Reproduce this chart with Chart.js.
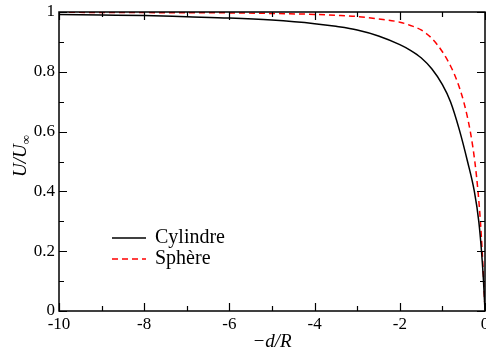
<!DOCTYPE html>
<html>
<head>
<meta charset="utf-8">
<script src="https://cdn.jsdelivr.net/npm/chart.js@4"></script>
<style>
  html, body { margin: 0; padding: 0; background: #fff; }
  canvas { display: block; }
</style>
</head>
<body>
<canvas id="chart" width="486" height="354"></canvas>
<script>
/* =========================
   DATA
========================= */
const cylX = [-10, -9, -8, -7, -6, -5, -4, -3.5, -3, -2.5, -2, -1.75, -1.5, -1.25, -1, -0.81, -0.6, -0.41, -0.25, -0.146, -0.082, -0.035, 0];
const cylU = [0.992, 0.990, 0.988, 0.984, 0.980, 0.973, 0.961, 0.952, 0.940, 0.920, 0.891, 0.872, 0.847, 0.810, 0.757, 0.70, 0.605, 0.50, 0.40, 0.30, 0.20, 0.10, 0];

const sphX = [-10, -8, -6, -5, -4, -3.5, -3, -2.5, -2, -1.75, -1.5, -1.25, -1, -0.8, -0.65, -0.5, -0.345, -0.239, -0.164, -0.108, -0.066, -0.031, -0.009];
const sphU = [0.999, 0.998, 0.997, 0.995, 0.992, 0.989, 0.985, 0.977, 0.966, 0.955, 0.940, 0.912, 0.867, 0.817, 0.767, 0.70, 0.60, 0.50, 0.40, 0.30, 0.20, 0.10, 0.03];

const seriesNames = ["Cylindre", "Sphère"];
const xTickLabels = { "-10": "-10", "-8": "-8", "-6": "-6", "-4": "-4", "-2": "-2", "0": "0" };
const yTickLabels = ["0", "0.2", "0.4", "0.6", "0.8", "1"];

const SERIF = "'Liberation Serif', 'Times New Roman', serif";

/* =========================
   PLUGINS
========================= */
// box frame + inward major/minor ticks on all four sides
const framePlugin = {
  id: "frame",
  afterDatasetsDraw(chart) {
    const { ctx, chartArea: a, scales } = chart;
    const xs = scales.x, ys = scales.y;
    ctx.save();
    ctx.strokeStyle = "#000";
    ctx.lineWidth = 1.2;
    ctx.beginPath();
    for (let v = -10; v <= 0; v += 1) {
      const px = Math.round(xs.getPixelForValue(v)) + 0.5;
      const len = v % 2 === 0 ? 8 : 5;
      ctx.moveTo(px, a.bottom); ctx.lineTo(px, a.bottom - len);
      ctx.moveTo(px, a.top); ctx.lineTo(px, a.top + len);
    }
    for (let i = 0; i <= 10; i++) {
      const py = Math.round(ys.getPixelForValue(i / 10)) + 0.5;
      const len = i % 2 === 0 ? 8 : 5;
      ctx.moveTo(a.left, py); ctx.lineTo(a.left + len, py);
      ctx.moveTo(a.right, py); ctx.lineTo(a.right - len, py);
    }
    ctx.stroke();
    ctx.lineWidth = 1.5;
    ctx.strokeRect(a.left, a.top, a.right - a.left, a.bottom - a.top);
    ctx.restore();
  }
};

// legend inside the plot
const legendPlugin = {
  id: "innerLegend",
  afterDraw(chart) {
    const { ctx } = chart;
    const x0 = 112, x1 = 146, tx = 155;
    const rows = [238, 259];
    ctx.save();
    chart.data.datasets.forEach((ds, i) => {
      const y = rows[i];
      ctx.strokeStyle = ds.borderColor;
      ctx.lineWidth = ds.borderWidth;
      ctx.setLineDash(ds.borderDash || []);
      ctx.beginPath();
      ctx.moveTo(x0, y); ctx.lineTo(x1, y);
      ctx.stroke();
      ctx.setLineDash([]);
      ctx.fillStyle = "#000";
      ctx.font = "20px " + SERIF;
      ctx.textBaseline = "middle";
      ctx.textAlign = "left";
      ctx.fillText(ds.label, tx, y);
    });
    ctx.restore();
  }
};

// y axis title U/U∞ with subscript
const yTitlePlugin = {
  id: "yTitle",
  afterDraw(chart) {
    const { ctx } = chart;
    ctx.save();
    ctx.translate(26, 156);
    ctx.rotate(-Math.PI / 2);
    ctx.fillStyle = "#000";
    ctx.textBaseline = "alphabetic";
    ctx.font = "italic 19px " + SERIF;
    const main = "U/U";
    const wMain = ctx.measureText(main).width;
    ctx.font = "13px " + SERIF;
    const wSub = ctx.measureText("∞").width;
    const start = -(wMain + wSub) / 2;
    ctx.font = "italic 19px " + SERIF;
    ctx.fillText(main, start, 0);
    ctx.font = "13px " + SERIF;
    ctx.fillText("∞", start + wMain, 4);
    ctx.restore();
  }
};

/* =========================
   CHART
========================= */
const chart = new Chart(document.getElementById("chart"), {
  type: "line",
  data: {
    datasets: [
      {
        label: seriesNames[0],
        data: cylX.map((x, i) => ({ x: x, y: cylU[i] })),
        borderColor: "#000000",
        borderWidth: 1.5,
        pointRadius: 0,
        cubicInterpolationMode: "monotone",
        fill: false
      },
      {
        label: seriesNames[1],
        data: sphX.map((x, i) => ({ x: x, y: sphU[i] })),
        borderColor: "#ff0000",
        borderWidth: 1.5,
        borderDash: [6, 4],
        pointRadius: 0,
        cubicInterpolationMode: "monotone",
        fill: false
      }
    ]
  },
  options: {
    responsive: false,
    animation: false,
    devicePixelRatio: 1,
    layout: { autoPadding: false, padding: { top: 12, right: 1, left: 0, bottom: 0 } },
    plugins: { legend: { display: false }, tooltip: { enabled: false } },
    scales: {
      x: {
        type: "linear",
        min: -10,
        max: 0,
        grid: { display: false, drawTicks: false },
        border: { display: false },
        ticks: {
          stepSize: 2,
          padding: 3,
          color: "#000",
          maxRotation: 0,
          font: { family: SERIF, size: 17 },
          callback: (v) => xTickLabels[String(v)] ?? ""
        },
        title: {
          display: true,
          text: "−d/R",
          color: "#000",
          font: { family: SERIF, size: 19, style: "italic" },
          padding: { top: 0, bottom: 1 }
        },
        afterFit: (s) => { s.height = 43; s.paddingLeft = 0; s.paddingRight = 0; }
      },
      y: {
        type: "linear",
        min: 0,
        max: 1,
        grid: { display: false, drawTicks: false },
        border: { display: false },
        ticks: {
          stepSize: 0.2,
          padding: 4,
          color: "#000",
          font: { family: SERIF, size: 17 },
          callback: (v) => yTickLabels[Math.round(v * 5)] ?? ""
        },
        afterFit: (s) => { s.width = 59; s.paddingTop = 0; s.paddingBottom = 0; }
      }
    }
  },
  plugins: [framePlugin, legendPlugin, yTitlePlugin]
});
</script>
</body>
</html>
